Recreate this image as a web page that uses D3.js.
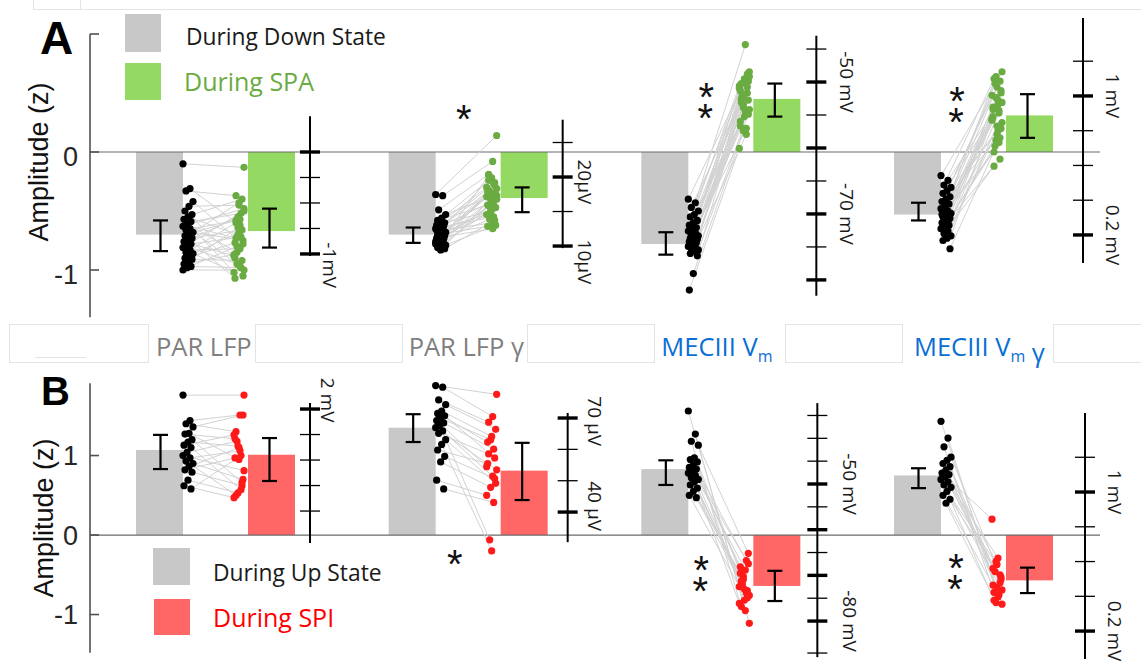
<!DOCTYPE html>
<html>
<head>
<meta charset="utf-8">
<script src="https://cdn.jsdelivr.net/npm/d3@7"></script>
<style>
  body { margin: 0; background: #fff; }
  svg { display: block; }
</style>
</head>
<body>
<svg id="fig" width="1141" height="669"></svg>
<script>
// ---------------------------------------------------------------
// Data (z-scored amplitudes)
// ---------------------------------------------------------------
const categories = ["PAR LFP", "PAR LFP γ", "MECIII V_m", "MECIII V_m γ"];

// Panel A: down state vs SPA
const downMean = [-0.70, -0.70, -0.78, -0.53];
const downErr  = [[-0.84, -0.58], [-0.77, -0.64], [-0.87, -0.68], [-0.58, -0.43]];
const spaMean  = [-0.67, -0.39, 0.45, 0.31];
const spaErr   = [[-0.81, -0.48], [-0.51, -0.30], [0.30, 0.58], [0.12, 0.49]];

const downCells = [
  [-0.10, -0.31, -0.33, -0.42, -0.46, -0.50, -0.53, -0.55, -0.57, -0.59, -0.61, -0.63, -0.65, -0.66, -0.68, -0.70, -0.71, -0.73, -0.75, -0.76, -0.78, -0.80, -0.81, -0.83, -0.85, -0.86, -0.88, -0.90, -0.91, -0.93, -0.95, -0.97, -0.98, -1.00, -0.69, -0.62],
  [-0.36, -0.37, -0.49, -0.53, -0.56, -0.58, -0.60, -0.61, -0.62, -0.63, -0.64, -0.65, -0.66, -0.67, -0.68, -0.69, -0.70, -0.71, -0.72, -0.73, -0.74, -0.75, -0.76, -0.77, -0.78, -0.79, -0.80, -0.81, -0.82, -0.83, -0.66, -0.70, -0.74, -0.78, -0.72],
  [-0.40, -0.43, -0.47, -0.50, -0.53, -0.55, -0.58, -0.60, -0.62, -0.64, -0.66, -0.67, -0.68, -0.70, -0.71, -0.72, -0.73, -0.74, -0.75, -0.76, -0.77, -0.78, -0.80, -0.81, -0.82, -0.83, -0.84, -0.86, -0.88, -1.03, -1.17],
  [-0.20, -0.24, -0.28, -0.30, -0.33, -0.35, -0.38, -0.40, -0.42, -0.44, -0.46, -0.48, -0.50, -0.51, -0.52, -0.54, -0.55, -0.56, -0.58, -0.60, -0.62, -0.63, -0.65, -0.67, -0.69, -0.71, -0.73, -0.75, -0.82, -0.45, -0.53, -0.57]
];
const spaCells = [
  [-0.13, -0.62, -0.37, -0.78, -0.45, -0.90, -0.40, -0.70, -1.02, -0.52, -0.85, -0.48, -0.97, -0.58, -0.75, -0.43, -1.07, -0.66, -0.55, -0.88, -0.72, -0.95, -0.50, -0.82, -0.60, -1.05, -0.68, -0.77, -0.92, -0.64, -0.87, -0.98, -0.80, -1.00, -0.57, -0.73],
  [0.14, -0.08, -0.19, -0.36, -0.22, -0.45, -0.26, -0.50, -0.30, -0.55, -0.33, -0.40, -0.60, -0.24, -0.47, -0.35, -0.63, -0.28, -0.52, -0.38, -0.42, -0.57, -0.31, -0.48, -0.20, -0.62, -0.44, -0.34, -0.58, -0.40, -0.53, -0.27, -0.46, -0.37, -0.65],
  [0.68, 0.91, 0.45, 0.60, 0.30, 0.52, 0.66, 0.38, 0.56, 0.20, 0.48, 0.64, 0.34, 0.58, 0.44, 0.62, 0.26, 0.50, 0.40, 0.54, 0.15, 0.46, 0.36, 0.59, 0.42, 0.32, 0.49, 0.22, 0.55, 0.18, 0.03],
  [0.68, 0.40, 0.62, 0.20, 0.55, 0.30, 0.60, 0.10, 0.48, 0.35, 0.58, 0.25, 0.44, 0.00, 0.52, 0.15, 0.38, -0.06, 0.46, 0.27, 0.33, 0.05, 0.42, 0.18, -0.12, 0.50, 0.22, 0.36, 0.12, 0.64, 0.28, 0.08]
];

// Panel B: up state vs SPI
const upMean  = [1.07, 1.35, 0.83, 0.75];
const upErr   = [[0.83, 1.26], [1.17, 1.52], [0.63, 0.94], [0.59, 0.84]];
const spiMean = [1.01, 0.81, -0.64, -0.57];
const spiErr  = [[0.68, 1.22], [0.44, 1.16], [-0.83, -0.45], [-0.73, -0.41]];

const upCells = [
  [1.76, 1.44, 1.40, 1.36, 1.28, 1.27, 1.20, 1.17, 1.13, 1.10, 1.04, 1.00, 0.97, 0.93, 0.90, 0.86, 0.82, 0.79, 0.69, 0.62, 0.58],
  [1.88, 1.86, 1.70, 1.64, 1.56, 1.53, 1.50, 1.47, 1.44, 1.41, 1.38, 1.35, 1.31, 1.28, 1.20, 1.14, 1.07, 0.99, 0.92, 0.69, 0.58],
  [1.56, 1.27, 1.18, 1.13, 0.97, 0.95, 0.92, 0.88, 0.85, 0.83, 0.80, 0.78, 0.75, 0.72, 0.70, 0.67, 0.63, 0.59, 0.55, 0.50, 0.47],
  [1.43, 1.22, 1.11, 0.98, 0.94, 0.90, 0.86, 0.82, 0.78, 0.76, 0.73, 0.70, 0.67, 0.63, 0.60, 0.55, 0.50, 0.45, 0.40]
];
const spiCells = [
  [1.76, 1.51, 1.30, 1.51, 0.95, 1.21, 0.66, 1.12, 1.26, 0.57, 1.18, 0.81, 1.06, 0.50, 0.70, 1.10, 0.97, 0.62, 0.53, 0.47, 1.00],
  [1.77, 1.49, 1.42, 1.33, 1.24, 1.17, 0.97, 1.20, 0.86, 1.08, -0.06, 0.82, 0.74, 1.02, 0.65, -0.20, 0.90, 0.71, 0.60, 0.50, 0.41],
  [-1.11, -0.95, -0.90, -0.23, -0.82, -0.40, -0.70, -0.52, -0.86, -0.32, -0.62, -0.76, -0.44, -0.58, -0.36, -0.68, -0.48, -0.79, -0.56, -0.65, -0.73],
  [-0.87, -0.78, -0.72, -0.53, -0.66, -0.42, -0.60, -0.33, 0.20, -0.75, -0.46, -0.69, -0.29, -0.82, -0.56, -0.37, -0.63, -0.50, -0.85]
];

// Significance marks per category
const sigA = ["", "*", "**", "**"];
const sigB = ["", "*", "**", "**"];

// Raw-unit scale bars: calib = two [unit, z] pairs, span = extent in units
const rawScalesA = [
  { calib: [[0, 0], [-1, -0.864]], span: [0.35, -1.02], ticks: [0, -0.25, -0.5, -0.75, -1], major: [0, -1], labels: [["-1mV", -1.11]] },
  { calib: [[20, -0.212], [10, -0.797]], span: [28.3, 9.7], ticks: [25, 20, 15, 10], major: [20, 10], labels: [["20µV", 19.3], ["10µV", 7.7]] },
  { calib: [[-50, 0.593], [-70, -0.525]], span: [-43.0, -82.4], ticks: [-45, -50, -55, -60, -65, -70, -75, -80], major: [-50, -60, -70, -80], labels: [["-50 mV", -50], ["-70 mV", -70]] },
  { calib: [[1, 0.475], [0.2, -0.703]], span: [1.449, 0.038], ticks: [1.2, 1.0, 0.8, 0.6, 0.4, 0.2], major: [1.0, 0.2], labels: [["1 mV", 1.0], ["0.2 mV", 0.2]] }
];
const rawScalesB = [
  { calib: [[2, 1.585], [1, -0.019]], span: [2.047, 0.949], ticks: [2.0, 1.8, 1.6, 1.4, 1.2], major: [2.0], labels: [["2 mV", 2.07]] },
  { calib: [[70, 1.472], [40, 0.289]], span: [71.6, 30.4], ticks: [70, 60, 50, 40], major: [70, 40], labels: [["70 µV", 69.0], ["40 µV", 41.9]] },
  { calib: [[-50, 0.642], [-80, -1.082]], span: [-32.3, -87.9], ticks: [-35, -40, -45, -50, -55, -60, -65, -70, -75, -80, -87], major: [-50, -60, -70, -80], labels: [["-50 mV", -50], ["-80 mV", -80]] },
  { calib: [[1, 0.541], [0.2, -1.208]], span: [1.455, 0.039], ticks: [1.2, 1.0, 0.8, 0.6, 0.4, 0.2], major: [1.0, 0.2], labels: [["1 mV", 1.0], ["0.2 mV", 0.2]] }
];

// ---------------------------------------------------------------
// Layout & style
// ---------------------------------------------------------------
const svg = d3.select("#fig");
const SANS = "'Liberation Sans', Arial, sans-serif";
const OPEN = "'Open Sans', 'Noto Sans', sans-serif";
const C = {
  grey: "#c8c8c8", green: "#93d962", greenDot: "#6aab42", red: "#ff6666", redDot: "#ff1a1a",
  link: "#d2d2d2", axis: "#505050", zero: "#6a6a6a", catGrey: "#7f7f7f", catBlue: "#0a6fd4"
};

const groupX = d3.scalePoint().domain(categories).range([136, 894]);
const BAR_W = 47;
const OFF = { baseDots: 52, condDots: 103, condBar: 112 };
const jitter = i => ((i * 7) % 11) - 5;
const STAR = 40;                 // asterisk font size
const STAR_ADV = 0.389 * STAR;   // asterisk advance width
const STAR_RISE = 0.58 * STAR;   // asterisk ink centre above baseline
const STAR_GAP = 21;             // vertical spacing of stacked asterisks
const STAR_ALIGN = 1;            // keeps stacked glyphs in one column

const panels = [
  {
    y: d3.scaleLinear().domain([-1.4, 1.0]).range([317.2, 34]),
    ticks: [1, 0, -1], tickLabels: [0, -1], labelDy: 4, titleX: 48, titleY: 162,
    baseMean: downMean, baseErr: downErr, condMean: spaMean, condErr: spaErr,
    baseCells: downCells, condCells: spaCells,
    condColor: C.green, condDot: C.greenDot, sig: sigA, sigZ: [0, 0.356, 0.458, 0.42], sigDx: [0, 75, 65, 63],
    raw: rawScalesA, rawDx: [174, 174, 175, 189], rawLabelDx: [20, 22, 31, 30],
    letter: "A", letterPos: [40, 54, 46]
  },
  {
    y: d3.scaleLinear().domain([-1.48, 1.91]).range([652.7, 383.2]),
    ticks: [1, 0, -1], tickLabels: [1, 0, -1], labelDy: 0, titleX: 53, titleY: 518,
    baseMean: upMean, baseErr: upErr, condMean: spiMean, condErr: spiErr,
    baseCells: upCells, condCells: spiCells,
    condColor: C.red, condDot: C.redDot, sig: sigB, sigZ: [0, -0.252, -0.453, -0.434], sigDx: [0, 66, 60, 62],
    raw: rawScalesB, rawDx: [174, 179, 176, 191], rawLabelDx: [18, 27, 33, 30],
    letter: "B", letterPos: [41, 405, 40]
  }
];

// faint frame remnants around the category strip and top edge
const frame = svg.append("g").attr("fill", "none").attr("stroke", "#e4e4e4").attr("stroke-width", 1);
[[9, 324, 139, 38], [255, 324, 147, 38], [527, 324, 127, 38], [785, 324, 117, 38], [1053, 324, 100, 38]]
  .forEach(r => frame.append("rect").attr("x", r[0] + 0.5).attr("y", r[1] + 0.5).attr("width", r[2]).attr("height", r[3]));
frame.append("line").attr("x1", 35).attr("x2", 86).attr("y1", 357.5).attr("y2", 357.5);
frame.append("line").attr("x1", 80).attr("x2", 1141).attr("y1", 9.5).attr("y2", 9.5);
frame.append("rect").attr("x", 33.5).attr("y", -1).attr("width", 47).attr("height", 10.5);

function drawPanel(p) {
  const y = p.y;
  const g = svg.append("g");
  const [d0, d1] = y.domain();

  categories.forEach((cat, gi) => {
    const gx = groupX(cat);
    // bars
    [[gx, p.baseMean[gi], C.grey], [gx + OFF.condBar, p.condMean[gi], p.condColor]].forEach(([x, v, col]) => {
      g.append("rect")
        .attr("x", x).attr("width", BAR_W)
        .attr("y", Math.min(y(0), y(v))).attr("height", Math.abs(y(v) - y(0)))
        .attr("fill", col);
    });
  });

  // zero line
  g.append("line").attr("x1", 90).attr("x2", 1100).attr("y1", y(0)).attr("y2", y(0))
    .attr("stroke", C.zero).attr("stroke-width", 1.2);

  categories.forEach((cat, gi) => {
    const gx = groupX(cat);
    const base = p.baseCells[gi], cond = p.condCells[gi];
    const bx = i => gx + OFF.baseDots + jitter(i);
    const cx = i => gx + OFF.condDots + jitter(i + 3);

    // paired links
    g.append("g").selectAll("line").data(base).join("line")
      .attr("x1", (d, i) => bx(i)).attr("y1", d => y(d))
      .attr("x2", (d, i) => cx(i)).attr("y2", (d, i) => y(cond[i]))
      .attr("stroke", C.link).attr("stroke-width", 1);

    g.append("g").selectAll("circle").data(base).join("circle")
      .attr("cx", (d, i) => bx(i)).attr("cy", d => y(d)).attr("r", 3.6).attr("fill", "#000");
    g.append("g").selectAll("circle").data(cond).join("circle")
      .attr("cx", (d, i) => cx(i)).attr("cy", d => y(d)).attr("r", 3.6).attr("fill", p.condDot);

    // error bars
    [[gx + BAR_W / 2 + 1, p.baseErr[gi]], [gx + OFF.condBar + BAR_W / 2 - 2, p.condErr[gi]]].forEach(([x, e]) => {
      const eb = g.append("g").attr("stroke", "#000").attr("stroke-width", 2.2);
      eb.append("line").attr("x1", x).attr("x2", x).attr("y1", y(e[0])).attr("y2", y(e[1]));
      eb.append("line").attr("x1", x - 7.5).attr("x2", x + 7.5).attr("y1", y(e[0])).attr("y2", y(e[0]));
      eb.append("line").attr("x1", x - 7.5).attr("x2", x + 7.5).attr("y1", y(e[1])).attr("y2", y(e[1]));
    });

    // significance asterisks: a multi-mark run is set top-to-bottom with
    // each glyph turned back upright
    const s = p.sig[gi];
    if (s) {
      const sx = gx + p.sigDx[gi], sy = y(p.sigZ[gi]);
      const st = g.append("text")
        .attr("font-family", SANS).attr("font-size", STAR).attr("fill", "#111").text(s);
      if (s.length > 1) {
        const top = sy - (s.length - 1) * STAR_GAP / 2;
        st.attr("transform", `translate(${sx - STAR_ADV / 2},${top + STAR_RISE}) rotate(90)`)
          .attr("rotate", -90)
          .attr("dy", s.split("").map((c, k) => (k === 0 ? 0 : STAR_ALIGN)).join(" "))
          .attr("letter-spacing", STAR_GAP - STAR_ADV);
      } else {
        st.attr("x", sx).attr("y", sy + STAR_RISE).attr("text-anchor", "middle");
      }
    }

    // raw-unit scale bar
    const r = p.raw[gi];
    const u2z = d3.scaleLinear().domain(r.calib.map(c => c[0])).range(r.calib.map(c => c[1]));
    const ax = gx + p.rawDx[gi];
    const rb = g.append("g");
    rb.append("line").attr("x1", ax).attr("x2", ax)
      .attr("y1", y(u2z(r.span[0]))).attr("y2", y(u2z(r.span[1])))
      .attr("stroke", "#000").attr("stroke-width", 2);
    rb.selectAll("line.t").data(r.ticks).join("line").attr("class", "t")
      .attr("x1", ax - 10).attr("x2", ax + 10)
      .attr("y1", d => y(u2z(d))).attr("y2", d => y(u2z(d)))
      .attr("stroke", "#000").attr("stroke-width", d => r.major.includes(d) ? 3.4 : 1.3);
    r.labels.forEach(([txt, at]) => {
      rb.append("text")
        .attr("transform", `translate(${ax + p.rawLabelDx[gi]},${y(u2z(at))}) rotate(90)`)
        .attr("text-anchor", "middle").attr("dominant-baseline", "central")
        .attr("font-family", OPEN).attr("font-size", 19).attr("fill", "#1a1a1a").text(txt);
    });
  });

  // left y axis
  const ax = g.append("g");
  ax.append("line").attr("x1", 90).attr("x2", 90).attr("y1", y(d1)).attr("y2", y(d0))
    .attr("stroke", C.axis).attr("stroke-width", 1.6);
  p.ticks.forEach(t => {
    ax.append("line").attr("x1", 90).attr("x2", 99).attr("y1", y(t)).attr("y2", y(t))
      .attr("stroke", C.axis).attr("stroke-width", 1.6);
  });
  p.tickLabels.forEach(t => {
    ax.append("text").attr("x", 78).attr("y", y(t) + p.labelDy + 0.358 * 27)
      .attr("text-anchor", "end").attr("font-family", SANS).attr("font-size", 27)
      .attr("fill", "#262626").text(d3.format("d")(t).replace("−", "-"));
  });
  ax.append("text")
    .attr("transform", `translate(${p.titleX},${p.titleY}) rotate(-90)`)
    .attr("text-anchor", "middle").attr("font-family", SANS).attr("font-size", 27)
    .attr("fill", "#111").text("Amplitude (z)");

  svg.append("text").attr("x", p.letterPos[0]).attr("y", p.letterPos[1])
    .attr("font-family", SANS).attr("font-weight", "bold").attr("font-size", p.letterPos[2])
    .attr("fill", "#000").text(p.letter);
}

panels.forEach(drawPanel);

// legends
const legends = [
  { x: 125, y: 14, w: 36, h: 38, fill: C.grey, text: "During Down State", tx: 186, ty: 45, size: 22.8, color: "#1a1a1a" },
  { x: 125, y: 63, w: 36, h: 37, fill: C.green, text: "During SPA", tx: 184, ty: 91, size: 25, color: C.greenDot },
  { x: 153, y: 548, w: 37, h: 37, fill: C.grey, text: "During Up State", tx: 213, ty: 581, size: 22.8, color: "#1a1a1a" },
  { x: 154, y: 599, w: 36, h: 36, fill: C.red, text: "During SPI", tx: 213, ty: 627, size: 25, color: "#ff0000" }
];
legends.forEach(l => {
  svg.append("rect").attr("x", l.x).attr("y", l.y).attr("width", l.w).attr("height", l.h).attr("fill", l.fill);
  svg.append("text").attr("x", l.tx).attr("y", l.ty).attr("font-family", OPEN).attr("font-size", l.size)
    .attr("fill", l.color).text(l.text);
});

// category names between the panels
const catColors = [C.catGrey, C.catGrey, C.catBlue, C.catBlue];
categories.forEach((cat, gi) => {
  const t = svg.append("text").attr("x", groupX(cat) + 20).attr("y", 356)
    .attr("font-family", OPEN).attr("font-size", 25.5).attr("fill", catColors[gi]);
  cat.split(/(_\w)/).forEach(part => {
    if (!part) return;
    if (part.startsWith("_")) {
      t.append("tspan").attr("dy", 6).attr("font-size", 16).text(part.slice(1));
      t.append("tspan").attr("dy", -6).text("");
    } else {
      t.append("tspan").text(part);
    }
  });
});
</script>
</body>
</html>
